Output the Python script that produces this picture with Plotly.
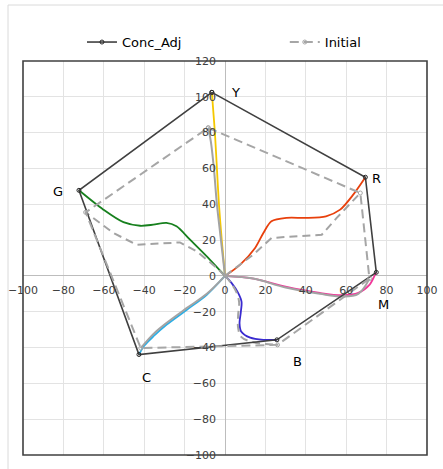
import plotly.graph_objects as go

# Hue vertices (a*, b*) for the adjusted and initial gamut outlines
vertex_names = ["Y", "R", "M", "B", "C", "G"]
conc_a = [-6.5, 69.5, 74.9, 25.7, -42.6, -72.3]
conc_b = [102.5, 55.1, 2.0, -35.7, -43.9, 47.8]
init_a = [-8.3, 67.0, 71.5, 26.0, -41.7, -69.0]
init_b = [82.7, 46.3, -1.5, -38.5, -40.3, 35.5]

# Concentration paths from the origin to each adjusted vertex
path_y_a = [0, -1.6, -3.0, -4.0, -5.0, -5.8, -6.5]
path_y_b = [0, 20, 40, 60, 80, 92, 102.5]
path_r_a = [0, 7.4, 14.9, 19.0, 23.0, 30.5, 40.0, 50.0, 57.0, 63.5, 69.5]
path_r_b = [0, 6.2, 15.6, 24.0, 30.5, 32.4, 32.4, 33.3, 37.0, 45.4, 55.1]
path_m_a = [0, 14, 30, 47, 58, 66, 71.5, 74, 74.9]
path_m_b = [0, -1.5, -6, -9.5, -10.8, -9.5, -5, 0, 2.0]
path_bl_a = [0, 3.3, 6.5, 8.2, 7.8, 7.2, 8.0, 12.5, 19.0, 25.7]
path_bl_b = [0, -4, -9.5, -14.5, -20.5, -26.5, -31, -34.5, -35.7, -35.7]
path_c_a = [0, -9, -19, -29, -35.5, -40, -42.6]
path_c_b = [0, -10.5, -19, -27.3, -33.8, -39, -43.9]
path_g_a = [0, -7.4, -17.3, -24, -29, -35.5, -42, -50.3, -60.2, -72.3]
path_g_b = [0, 9, 20.2, 27.7, 29.6, 28.6, 28, 30, 37, 47.8]

# Initial paths from the origin to each initial vertex
ipath_y_a = [0, -2, -4, -5.5, -7, -8.3]
ipath_y_b = [0, 20, 40, 60, 75, 82.7]
ipath_r_a = [0, 14, 23.1, 47.9, 55.3, 67.0]
ipath_r_b = [0, 11.9, 21.2, 23.0, 32.4, 46.3]
ipath_m_a = [0, 14, 30, 47, 58, 66, 71.5]
ipath_m_b = [0, -1.5, -6.5, -10, -11.5, -10, -1.5]
ipath_bl_a = [0, 3, 6, 7, 6.5, 6.5, 8, 14, 26.0]
ipath_bl_b = [0, -4, -10, -15, -22, -29, -34, -37, -38.5]
ipath_c_a = [0, -9, -19, -29, -35.5, -41.7]
ipath_c_b = [0, -10, -18, -26.3, -32.5, -40.3]
ipath_g_a = [0, -4, -14, -22.3, -43.7, -55.3, -69.0]
ipath_g_b = [0, 4.4, 13.7, 18.7, 17.4, 24, 35.5]

x_ticks = list(range(-100, 101, 20))
y_ticks = list(range(-100, 121, 20))

FONT = "DejaVu Sans"
fig = go.Figure()

hue_paths = [
    (path_y_a, path_y_b, "#F5C800"),
    (path_r_a, path_r_b, "#E8400C"),
    (path_m_a, path_m_b, "#F0399A"),
    (path_bl_a, path_bl_b, "#3A2BD0"),
    (path_c_a, path_c_b, "#2AAEE6"),
    (path_g_a, path_g_b, "#17801E"),
]
for a, b, col in hue_paths:
    fig.add_trace(go.Scatter(x=a, y=b, mode="lines", line=dict(color=col, width=1.8, shape="spline", smoothing=0.8),
                             showlegend=False, hoverinfo="skip"))

init_paths = [
    (ipath_y_a, ipath_y_b, "solid", "spline"),
    (ipath_r_a, ipath_r_b, "dash", "linear"),
    (ipath_m_a, ipath_m_b, "solid", "spline"),
    (ipath_bl_a, ipath_bl_b, "dash", "spline"),
    (ipath_c_a, ipath_c_b, "solid", "spline"),
    (ipath_g_a, ipath_g_b, "dash", "linear"),
]
for a, b, dash, shape in init_paths:
    fig.add_trace(go.Scatter(x=a, y=b, mode="lines",
                             line=dict(color="#A3A3A3", width=2, dash=dash if dash == "solid" else "8px,5px", shape=shape),
                             showlegend=False, hoverinfo="skip"))

fig.add_trace(go.Scatter(
    x=conc_a + conc_a[:1], y=conc_b + conc_b[:1], mode="lines+markers", name="Conc_Adj", legend="legend",
    line=dict(color="#404040", width=1.6),
    marker=dict(symbol="circle-open", size=4, color="#262626", line=dict(width=1)),
))
fig.add_trace(go.Scatter(
    x=init_a + init_a[:1], y=init_b + init_b[:1], mode="lines+markers", name="Initial", legend="legend2",
    line=dict(color="#A6A6A6", width=2, dash="9px,5px"),
    marker=dict(symbol="circle-open", size=4, color="#A6A6A6", line=dict(width=1)),
))

label_pos = {"Y": (5.4, 102.4), "R": (75.2, 54.3), "M": (78.7, -15.8),
             "B": (36.1, -48.0), "C": (-39.1, -56.9), "G": (-82.7, 47.1)}
for name in vertex_names:
    lx, ly = label_pos[name]
    fig.add_annotation(x=lx, y=ly, text=name, showarrow=False, font=dict(family=FONT, size=13, color="#000000"))

fig.add_annotation(x=104.8, y=8, text="a*", showarrow=False, font=dict(family=FONT, size=13, color="#000000"))
fig.add_annotation(x=0.5, y=-104, text="b*", showarrow=False, font=dict(family=FONT, size=13, color="#000000"))

axis_common = dict(showgrid=True, gridcolor="#E3E3E3", gridwidth=1, zeroline=True, zerolinecolor="#BDBDBD",
                   zerolinewidth=1, showline=False, ticks="", anchor="free", automargin=False,
                   tickfont=dict(family=FONT, size=11, color="#404040"))
legend_common = dict(orientation="h", xanchor="left", y=1.048, yanchor="middle",
                     font=dict(family=FONT, size=13, color="#000000"), bgcolor="rgba(0,0,0,0)")
fig.update_layout(
    width=443, height=469,
    margin=dict(l=23, r=16, t=61, b=14, autoexpand=False),
    paper_bgcolor="white", plot_bgcolor="white",
    xaxis=dict(range=[-100, 100], tickvals=x_ticks, position=100 / 220, ticklabelstandoff=6, **axis_common),
    yaxis=dict(range=[-100, 120], tickvals=y_ticks, position=0.5, ticklabelstandoff=9, **axis_common),
    legend=dict(x=0.146, **legend_common),
    legend2=dict(x=0.648, **legend_common),
    showlegend=True,
    shapes=[
        dict(type="rect", xref="paper", yref="paper", x0=0, x1=1, y0=0, y1=1,
             line=dict(color="#404040", width=1.6), layer="above"),
        dict(type="rect", xref="paper", yref="paper", x0=-15 / 404, x1=1.2, y0=-0.2, y1=1 + 56 / 394,
             line=dict(color="#DADADA", width=1), layer="below"),
    ],
)

fig.write_html("out.html")
